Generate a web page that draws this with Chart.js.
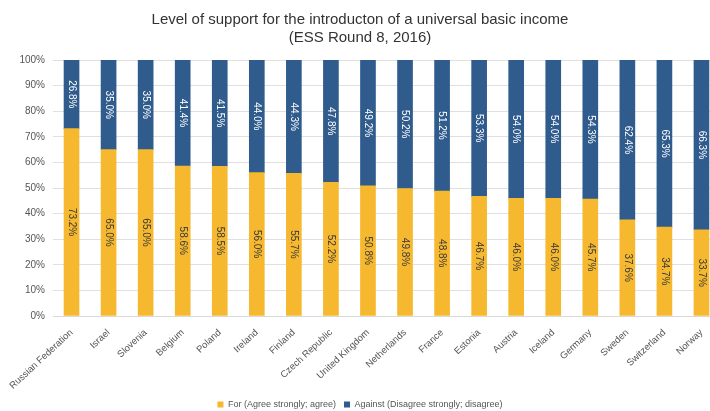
<!DOCTYPE html>
<html>
<head>
<meta charset="utf-8">
<script src="https://cdn.jsdelivr.net/npm/chart.js@4/dist/chart.umd.min.js"></script>
<style>
  html, body { margin: 0; padding: 0; background: #fff; overflow: hidden; }
  #wrap { width: 720px; height: 411px; position: relative; }
</style>
</head>
<body>
<div id="wrap"><canvas id="ubiChart"></canvas></div>
<script>
const countries = ["Russian Federation", "Israel", "Slovenia", "Belgium", "Poland", "Ireland", "Finland",
    "Czech Republic", "United Kingdom", "Netherlands", "France", "Estonia", "Austria", "Iceland",
    "Germany", "Sweden", "Switzerland", "Norway"];
const forValues = [73.2, 65.0, 65.0, 58.6, 58.5, 56.0, 55.7, 52.2, 50.8, 49.8, 48.8, 46.7, 46.0, 46.0, 45.7, 37.6, 34.7, 33.7];
const againstValues = [26.8, 35.0, 35.0, 41.4, 41.5, 44.0, 44.3, 47.8, 49.2, 50.2, 51.2, 53.3, 54.0, 54.0, 54.3, 62.4, 65.3, 66.3];
const seriesNames = ["For (Agree strongly; agree)", "Against (Disagree strongly; disagree)"];
const titleLines = ["Level of support for the introducton of a universal basic income", "(ESS Round 8, 2016)"];

const FONT = "'Liberation Sans', Arial, sans-serif";

// value labels, rotated, in the middle of each segment
const segmentLabels = {
    id: "segmentLabels",
    afterDatasetsDraw(chart) {
        const ctx = chart.ctx;
        chart.data.datasets.forEach(function(ds, i) {
            const meta = chart.getDatasetMeta(i);
            meta.data.forEach(function(bar, j) {
                const mid = (bar.y + bar.base) / 2;
                ctx.save();
                ctx.translate(bar.x, mid);
                ctx.rotate(Math.PI / 2);
                ctx.font = "10px " + FONT;
                ctx.textAlign = "center";
                ctx.textBaseline = "middle";
                ctx.fillStyle = i === 0 ? "#3a3a3a" : "#ffffff";
                ctx.fillText(ds.data[j].toFixed(1) + "%", 0, 0);
                ctx.restore();
            });
        });
    }
};

new Chart(document.getElementById("ubiChart"), {
    type: "bar",
    data: {
        labels: countries,
        datasets: [
            { label: seriesNames[0], data: forValues, backgroundColor: "#F5B82E", barThickness: 15 },
            { label: seriesNames[1], data: againstValues, backgroundColor: "#2F5B8D", barThickness: 15 }
        ]
    },
    options: {
        responsive: true,
        maintainAspectRatio: false,
        animation: false,
        layout: { padding: { left: 0, right: 0, top: 11, bottom: 0 } },
        plugins: {
            title: {
                display: true,
                text: titleLines,
                color: "#333",
                font: { family: FONT, size: 15, weight: "normal", lineHeight: 1.2 },
                padding: { top: 0, bottom: 13 }
            },
            legend: {
                position: "bottom",
                maxHeight: 19,
                labels: {
                    boxWidth: 6, boxHeight: 6, padding: 8,
                    color: "#555",
                    font: { family: FONT, size: 9 }
                }
            },
            tooltip: { enabled: false }
        },
        scales: {
            x: {
                stacked: true,
                grid: { display: false },
                border: { color: "#d9d9d9" },
                afterFit: function(s) { s.height = 76; },
                ticks: { color: "#555", font: { family: FONT, size: 9.5 }, minRotation: 43, maxRotation: 43, autoSkip: false }
            },
            y: {
                stacked: true,
                min: 0, max: 100,
                afterFit: function(s) { s.width = 53; },
                grid: { color: "#e0e0e0", drawTicks: false },
                border: { display: false },
                ticks: { stepSize: 10, padding: 8, color: "#555", font: { family: FONT, size: 10 },
                    callback: v => v + "%" }
            }
        }
    },
    plugins: [segmentLabels]
});
</script>
</body>
</html>
